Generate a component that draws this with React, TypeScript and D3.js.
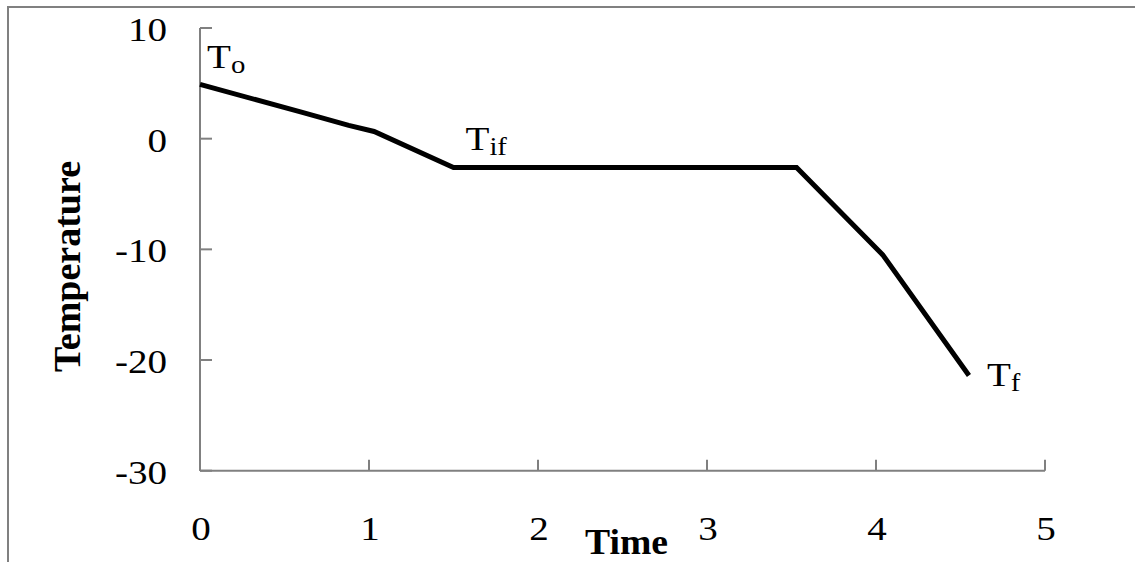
import React from "react";
import * as d3 from "d3";

const time = [0, 0.6, 0.88, 1.03, 1.5, 3.53, 4.04, 4.55];
const temperature = [4.9, 2.4, 1.2, 0.65, -2.6, -2.6, -10.5, -21.4];
const xTicks = [0, 1, 2, 3, 4, 5];
const yTicks = [10, 0, -10, -20, -30];
const xTitle = "Time";
const yTitle = "Temperature";
const annotations = [
  { idx: 0, main: "T", sub: "o", dx: 7, dy: -16 },
  { idx: 4, main: "T", sub: "if", dx: 12, dy: -17 },
  { idx: 7, main: "T", sub: "f", dx: 18, dy: 10 },
];

const W = 1135;
const H = 562;
const FONT = "'Liberation Serif', 'Times New Roman', serif";
const GRAY = "#808080";

export default function App() {
  const x = d3.scaleLinear().domain([0, 5]).range([200, 1045]);
  const y = d3.scaleLinear().domain([-30, 10]).range([470.7, 28]);
  const pts: [number, number][] = time.map((t, i) => [t, temperature[i]]);
  const line = d3
    .line<[number, number]>()
    .x((d) => x(d[0]))
    .y((d) => y(d[1]));
  const y0 = y(-30);
  const x0 = x(0);

  return (
    <svg
      width={W}
      height={H}
      style={{ position: "absolute", left: 0, top: 0, background: "#fff" }}
      fontFamily={FONT}
    >
      <rect x={0} y={0} width={W} height={H} fill="#fff" />
      <path d={`M8,${H} V7 H${W}`} fill="none" stroke={GRAY} strokeWidth={2} />
      {/* axes */}
      <line x1={x0} x2={x0} y1={y(10)} y2={y0} stroke={GRAY} strokeWidth={2} />
      <line x1={x0} x2={x(5)} y1={y0} y2={y0} stroke={GRAY} strokeWidth={2} />
      {yTicks.map((v) => (
        <g key={"y" + v}>
          <line x1={x0} x2={x0 + 12} y1={y(v)} y2={y(v)} stroke={GRAY} strokeWidth={2} />
          <g transform={`translate(167,${y(v) + 13}) scale(1.15,1)`}>
            <text textAnchor="end" fontSize={34} fill="#000">
              {v}
            </text>
          </g>
        </g>
      ))}
      {xTicks.map((v) => (
        <g key={"x" + v}>
          <line x1={x(v)} x2={x(v)} y1={y0} y2={y0 - 11} stroke={GRAY} strokeWidth={2} />
          <g transform={`translate(${x(v) + 1},540) scale(1.15,1)`}>
            <text textAnchor="middle" fontSize={34} fill="#000">
              {v}
            </text>
          </g>
        </g>
      ))}
      <path d={line(pts) || ""} fill="none" stroke="#000" strokeWidth={5} strokeLinejoin="miter" />
      {annotations.map((a) => (
        <g
          key={a.sub}
          transform={`translate(${x(time[a.idx]) + a.dx},${y(temperature[a.idx]) + a.dy}) scale(1.15,1)`}
        >
          <text fontSize={34} fill="#000">
            T
            <tspan fontSize={25} dy={5}>
              {a.sub}
            </tspan>
          </text>
        </g>
      ))}
      <text
        x={585}
        y={554}
        fontSize={35}
        fontWeight="bold"
        textLength={83}
        lengthAdjust="spacingAndGlyphs"
        fill="#000"
      >
        {xTitle}
      </text>
      <text
        transform="translate(80,372) rotate(-90)"
        fontSize={37}
        fontWeight="bold"
        textLength={211}
        lengthAdjust="spacingAndGlyphs"
        fill="#000"
      >
        {yTitle}
      </text>
    </svg>
  );
}
